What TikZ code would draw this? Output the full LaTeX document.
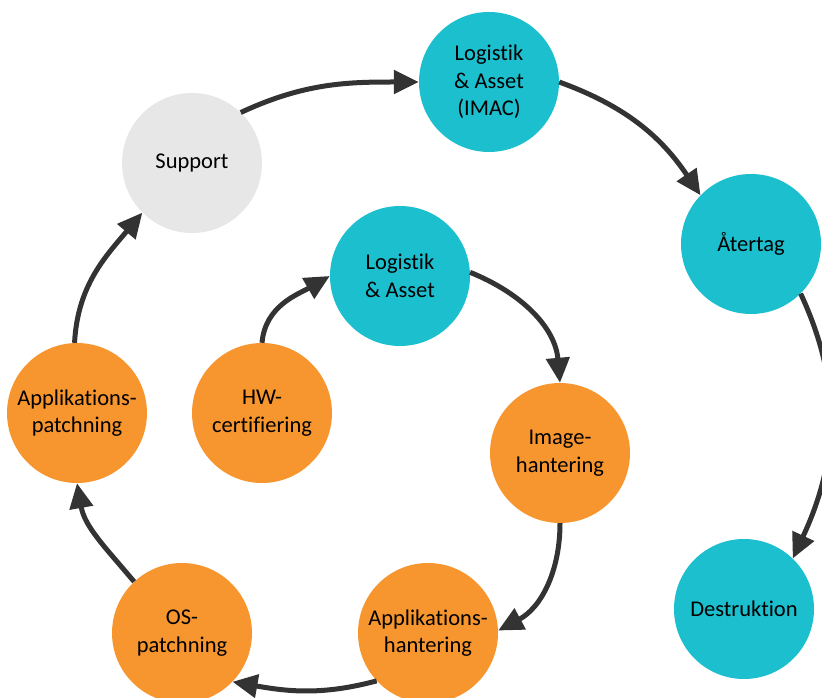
\documentclass[tikz,border=0pt]{standalone}
\usepackage{fontspec}
\setmainfont{Carlito}[Ligatures=NoCommon]
\usetikzlibrary{arrows.meta}
\definecolor{tealc}{HTML}{1BBFCE}
\definecolor{orangec}{HTML}{F7952F}
\definecolor{grayc}{HTML}{E7E7E7}
\definecolor{arrowc}{HTML}{333333}
\begin{document}
\begin{tikzpicture}[x=1pt,y=1pt,
  circ/.style={circle,minimum size=140pt,inner sep=0pt,align=center,
    font=\fontsize{22.5}{27.5}\selectfont,text=black},
  tealnode/.style={circ,fill=tealc},
  orangenode/.style={circ,fill=orangec},
  graynode/.style={circ,fill=grayc},
  conn/.style={draw=arrowc,line width=5pt,-{Triangle[length=25pt,width=23pt]}}]
\useasboundingbox (0,0) rectangle (822,697);
\node[tealnode] (imac) at (489,615) {Logistik\\\& Asset\\(IMAC)};
\node[graynode] (sup) at (192,534) {Support};
\node[tealnode] (ater) at (751,453) {Återtag};
\node[tealnode] (log) at (400,421) {Logistik\\\& Asset};
\node[orangenode] (hw) at (262,284) {HW-\\certifiering};
\node[orangenode] (appp) at (77,284) {Applikations-\\patchning};
\node[orangenode] (img) at (560,244) {Image-\\hantering};
\node[tealnode] (dest) at (744,88) {Destruktion};
\node[orangenode] (osp) at (182,64) {OS-\\patchning};
\node[orangenode] (apph) at (428,64) {Applikations-\\hantering};
\draw[conn] (sup.46) to[out=25,in=180] (imac.west);
\draw[conn] (imac.0) to[out=-20,in=124] (ater.136);
\draw[conn] (ater.-45) to[out=-65,in=65] (dest.46);
\draw[conn] (appp.92) to[out=87,in=230] (sup.225);
\draw[conn] (osp.133) to[out=130,in=-80] (appp.-90);
\draw[conn] (apph.223) to[out=195,in=-10] (osp.-44);
\draw[conn] (img.-90) to[out=-90,in=28] (apph.2);
\draw[conn] (log.3) to[out=-22,in=95] (img.90);
\draw[conn] (hw.90) to[out=85,in=210] (log.180);
\end{tikzpicture}
\end{document}
